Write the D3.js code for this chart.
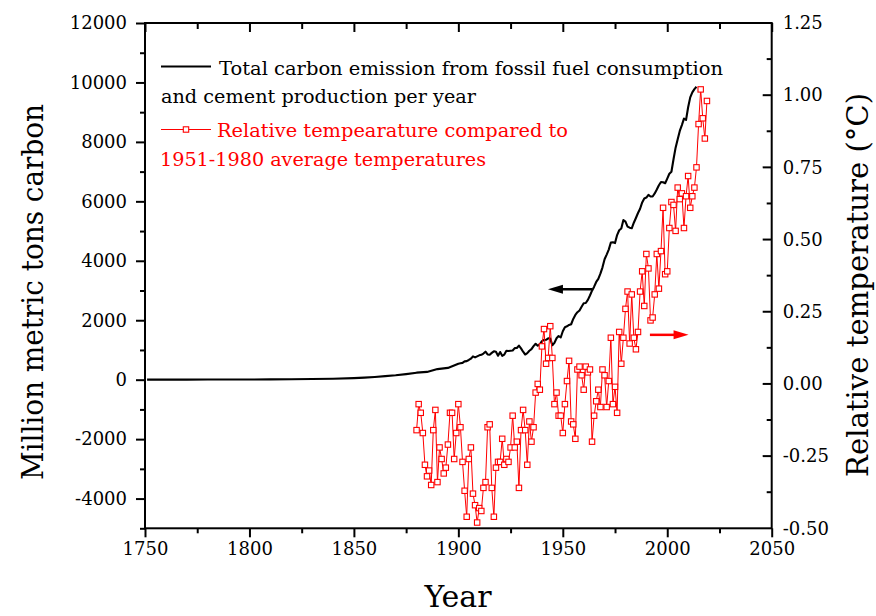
<!DOCTYPE html>
<html>
<head>
<meta charset="utf-8">
<script src="https://cdn.jsdelivr.net/npm/d3@7/dist/d3.min.js"></script>
<style>
  html, body { margin: 0; padding: 0; background: #ffffff; }
  svg { display: block; }
  text { font-family: "DejaVu Serif", "Liberation Serif", serif; }
</style>
</head>
<body>
<svg id="chart" width="876" height="616"></svg>
<script>
// ---------------- DATA ----------------
const emissionYears = [1751,1760,1770,1780,1790,1800,1810,1820,1830,1840,1850,1855,1860,1865,1870,1875,1880,1885,1890,1895,
  1900,1901,1902,1903,1904,1905,1906,1907,1908,1909,1910,1911,1912,1913,1914,1915,1916,1917,1918,1919,
  1920,1921,1922,1923,1924,1925,1926,1927,1928,1929,1930,1931,1932,1933,1934,1935,1936,1937,1938,1939,
  1940,1941,1942,1943,1944,1945,1946,1947,1948,1949,1950,1951,1952,1953,1954,1955,1956,1957,1958,1959,
  1960,1961,1962,1963,1964,1965,1966,1967,1968,1969,1970,1971,1972,1973,1974,1975,1976,1977,1978,1979,
  1980,1981,1982,1983,1984,1985,1986,1987,1988,1989,1990,1991,1992,1993,1994,1995,1996,1997,1998,1999,
  2000,2001,2002,2003,2004,2005,2006,2007,2008,2009,2010,2011,2012,2013,2014];
const emissionValues = [3,3,3,4,6,8,10,14,24,33,54,70,91,119,147,188,236,262,356,396,
  534,552,566,617,624,663,707,784,750,785,819,836,879,943,850,838,901,955,936,806,
  932,803,845,970,963,975,983,1062,1065,1145,1053,940,847,893,973,1027,1130,1209,1142,1192,
  1299,1334,1342,1391,1383,1160,1238,1392,1469,1419,1630,1767,1795,1841,1865,2042,2177,2270,2330,2454,
  2569,2580,2686,2833,2995,3130,3288,3393,3566,3780,4053,4208,4376,4614,4623,4596,4864,5026,5087,5369,
  5315,5152,5113,5094,5280,5439,5607,5752,5965,6097,6127,6217,6164,6162,6266,6398,6542,6651,6643,6610,
  6765,6927,6996,7416,7807,8093,8370,8566,8783,8740,9167,9497,9668,9775,9855];

const tempYears = d3.range(1880, 2020);
const tempValues = [
  -0.16,-0.07,-0.10,-0.17,-0.28,-0.32,-0.30,-0.35,-0.16,-0.09,
  -0.34,-0.22,-0.26,-0.31,-0.29,-0.21,-0.10,-0.10,-0.26,-0.17,
  -0.07,-0.15,-0.27,-0.37,-0.46,-0.26,-0.22,-0.38,-0.42,-0.48,
  -0.43,-0.44,-0.36,-0.34,-0.15,-0.14,-0.36,-0.46,-0.29,-0.27,
  -0.27,-0.19,-0.28,-0.26,-0.27,-0.22,-0.11,-0.22,-0.20,-0.36,
  -0.16,-0.09,-0.16,-0.28,-0.13,-0.20,-0.15,-0.03,0.00,-0.02,
  0.13,0.19,0.07,0.09,0.20,0.09,-0.07,-0.03,-0.11,-0.11,
  -0.17,-0.07,0.01,0.08,-0.13,-0.14,-0.19,0.05,0.06,0.03,
  -0.02,0.06,0.04,0.05,-0.20,-0.11,-0.06,-0.02,-0.08,0.05,
  0.03,-0.08,0.01,0.16,-0.07,-0.01,-0.10,0.18,0.07,0.16,
  0.26,0.32,0.14,0.31,0.16,0.12,0.18,0.32,0.39,0.27,
  0.45,0.40,0.22,0.23,0.31,0.45,0.33,0.46,0.61,0.38,
  0.39,0.54,0.63,0.62,0.53,0.68,0.64,0.66,0.54,0.65,
  0.72,0.61,0.65,0.68,0.75,0.90,1.02,0.92,0.85,0.98];

const xTickLabels = ["1750","1800","1850","1900","1950","2000","2050"];
const leftTickLabels = ["-4000","-2000","0","2000","4000","6000","8000","10000","12000"];
const rightTickLabels = ["-0.50","-0.25","0.00","0.25","0.50","0.75","1.00","1.25"];

const legendLines1 = ["Total carbon emission from fossil fuel consumption", "and cement production per year"];
const legendLines2 = ["Relative tempearature compared to", "1951-1980 average temperatures"];

// annotation arrows in data units
const blackArrow = { from: 1964, to: 1942.9, value: 3040 };   // left axis units
const redArrow = { from: 1991.7, to: 2010.2, value: 0.17 };    // right axis units

// ---------------- LAYOUT ----------------
const svg = d3.select("#chart");
const L = 145, R = 771.7, T = 23, B = 528.3;

const x = d3.scaleLinear().domain([1750, 2050]).range([L, R]);
const yL = d3.scaleLinear().domain([-5000, 12000]).range([B, T]);
const yR = d3.scaleLinear().domain([-0.5, 1.25]).range([B, T]);

svg.append("rect").attr("width", 876).attr("height", 616).attr("fill", "#fff");

// emission line
const lineE = d3.line().x((d, i) => x(emissionYears[i])).y(d => yL(d));
svg.append("path").datum(emissionValues)
  .attr("d", lineE).attr("fill", "none").attr("stroke", "#000")
  .attr("stroke-width", 2.1).attr("stroke-linejoin", "round");

// temperature line + markers
const lineT = d3.line().x((d, i) => x(tempYears[i])).y(d => yR(d));
svg.append("path").datum(tempValues)
  .attr("d", lineT).attr("fill", "none").attr("stroke", "#ff0000")
  .attr("stroke-width", 1);
const ms = 5.4;
svg.append("g").selectAll("rect").data(tempValues).join("rect")
  .attr("x", (d, i) => x(tempYears[i]) - ms / 2)
  .attr("y", d => yR(d) - ms / 2)
  .attr("width", ms).attr("height", ms)
  .attr("fill", "#fff").attr("stroke", "#ff0000").attr("stroke-width", 1.1);

// ---------------- AXES ----------------
const fs = 18;
function styleAxis(g) {
  g.select(".domain").remove();
  g.selectAll("line").attr("stroke", "#000").attr("stroke-width", 2);
  g.selectAll("text").attr("font-size", fs).attr("fill", "#000")
    .attr("font-family", '"DejaVu Serif", serif');
}
// bottom
const xMajor = d3.range(1750, 2051, 50), xMinor = d3.range(1775, 2050, 50);
svg.append("g").attr("transform", `translate(0,${B})`)
  .call(d3.axisBottom(x).tickValues(xMajor).tickSize(9).tickPadding(5).tickFormat((d, i) => xTickLabels[i]))
  .call(styleAxis);
svg.append("g").attr("transform", `translate(0,${B})`)
  .call(d3.axisBottom(x).tickValues(xMinor).tickSize(5).tickFormat(""))
  .call(styleAxis);
// top (inward)
svg.append("g").attr("transform", `translate(0,${T})`)
  .call(d3.axisBottom(x).tickValues(xMajor).tickSize(9).tickFormat(""))
  .call(styleAxis);
svg.append("g").attr("transform", `translate(0,${T})`)
  .call(d3.axisBottom(x).tickValues(xMinor).tickSize(6).tickFormat(""))
  .call(styleAxis);
// left (outward)
const lMajor = d3.range(-4000, 12001, 2000), lMinor = d3.range(-5000, 12000, 2000);
svg.append("g").attr("transform", `translate(${L},0)`)
  .call(d3.axisLeft(yL).tickValues(lMajor).tickSize(9).tickPadding(9).tickFormat((d, i) => leftTickLabels[i]))
  .call(styleAxis);
svg.append("g").attr("transform", `translate(${L},0)`)
  .call(d3.axisLeft(yL).tickValues(lMinor).tickSize(5).tickFormat(""))
  .call(styleAxis);
// right (inward ticks, labels outside)
const rMajor = d3.range(0, 8).map(i => -0.5 + i * 0.25);
const rMinor = d3.range(0, 7).map(i => -0.375 + i * 0.25);
const gR = svg.append("g").attr("transform", `translate(${R},0)`)
  .call(d3.axisRight(yR).tickValues(rMajor).tickSize(0).tickPadding(11).tickFormat((d, i) => rightTickLabels[i]))
  .call(styleAxis);
gR.selectAll(".tick line").remove();
svg.append("g").selectAll("line").data(rMajor.slice(1, -1)).join("line")
  .attr("x1", R - 9).attr("x2", R).attr("y1", d => yR(d)).attr("y2", d => yR(d))
  .attr("stroke", "#000").attr("stroke-width", 2);
svg.append("g").selectAll("line").data(rMinor).join("line")
  .attr("x1", R - 5).attr("x2", R).attr("y1", d => yR(d)).attr("y2", d => yR(d))
  .attr("stroke", "#000").attr("stroke-width", 2);

// frame
svg.append("rect").attr("x", L).attr("y", T).attr("width", R - L).attr("height", B - T)
  .attr("fill", "none").attr("stroke", "#000").attr("stroke-width", 2);

// ---------------- TITLES ----------------
svg.append("text").attr("x", 458).attr("y", 607).attr("text-anchor", "middle")
  .attr("font-size", 30).attr("fill", "#000").text("Year");
svg.append("text").attr("transform", "translate(43,292) rotate(-90)").attr("text-anchor", "middle")
  .attr("font-size", 29).attr("fill", "#000")
  .attr("textLength", 376).attr("lengthAdjust", "spacingAndGlyphs")
  .text("Million metric tons carbon");
svg.append("text").attr("transform", "translate(868,285) rotate(-90)").attr("text-anchor", "middle")
  .attr("font-size", 29).attr("fill", "#000")
  .attr("textLength", 384).attr("lengthAdjust", "spacingAndGlyphs")
  .text("Relative temperature (\u00B0C)");

// ---------------- LEGEND ----------------
const lg = svg.append("g");
lg.append("line").attr("x1", 161).attr("x2", 211).attr("y1", 66.5).attr("y2", 66.5)
  .attr("stroke", "#000").attr("stroke-width", 2);
lg.append("text").attr("x", 219).attr("y", 75).attr("font-size", 19).attr("fill", "#000")
  .attr("textLength", 504).attr("lengthAdjust", "spacingAndGlyphs").text(legendLines1[0]);
lg.append("text").attr("x", 161).attr("y", 103).attr("font-size", 19).attr("fill", "#000")
  .attr("textLength", 315).attr("lengthAdjust", "spacingAndGlyphs").text(legendLines1[1]);
lg.append("line").attr("x1", 161).attr("x2", 211).attr("y1", 129.5).attr("y2", 129.5)
  .attr("stroke", "#ff0000").attr("stroke-width", 1);
lg.append("rect").attr("x", 186 - ms / 2).attr("y", 129.5 - ms / 2).attr("width", ms).attr("height", ms)
  .attr("fill", "#fff").attr("stroke", "#ff0000").attr("stroke-width", 1.1);
lg.append("text").attr("x", 217).attr("y", 137).attr("font-size", 19).attr("fill", "#ff0000")
  .attr("textLength", 351).attr("lengthAdjust", "spacingAndGlyphs").text(legendLines2[0]);
lg.append("text").attr("x", 160).attr("y", 166).attr("font-size", 19).attr("fill", "#ff0000")
  .attr("textLength", 326).attr("lengthAdjust", "spacingAndGlyphs").text(legendLines2[1]);

// ---------------- ARROWS ----------------
function arrow(x1, x2, y, color) {
  const dir = Math.sign(x2 - x1);
  const headLen = 15, headHalf = 4.5;
  svg.append("line").attr("x1", x1).attr("x2", x2 - dir * headLen * 0.6).attr("y1", y).attr("y2", y)
    .attr("stroke", color).attr("stroke-width", 2.5);
  svg.append("path")
    .attr("d", `M${x2},${y} L${x2 - dir * headLen},${y - headHalf} L${x2 - dir * headLen},${y + headHalf} Z`)
    .attr("fill", color);
}
arrow(x(blackArrow.from), x(blackArrow.to), yL(blackArrow.value), "#000");
arrow(x(redArrow.from), x(redArrow.to), yR(redArrow.value), "#ff0000");
</script>
</body>
</html>
